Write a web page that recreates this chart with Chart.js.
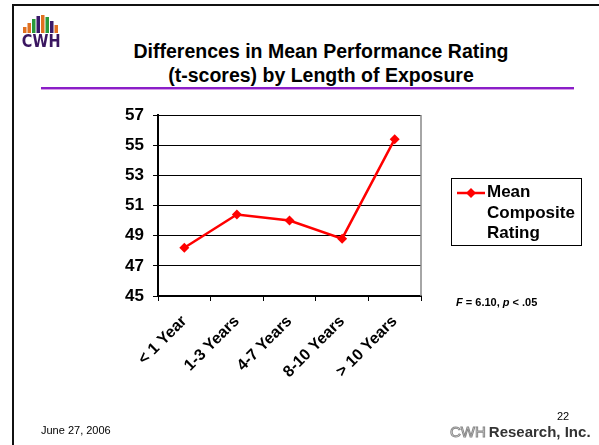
<!DOCTYPE html>
<html>
<head>
<meta charset="utf-8">
<script src="https://cdn.jsdelivr.net/npm/chart.js@4"></script>
<style>
  html, body { margin: 0; padding: 0; background: #fff; }
  body { width: 599px; height: 445px; position: relative; overflow: hidden; font-family: Arial, "Liberation Sans", sans-serif; }
  #frameTop { position: absolute; left: 12px; top: 4px; width: 587px; height: 2px; background: #111; }
  #frameLeft { position: absolute; left: 12px; top: 4px; width: 2px; height: 441px; background: #111; }
  #title { position: absolute; left: 101px; width: 440px; top: 39px; text-align: center; font-weight: bold; font-size: 19.5px; line-height: 24px; color: #000; }
  #rule { position: absolute; left: 41px; top: 87px; width: 533px; height: 2px; background: #8a1ec8; border-bottom: 1px solid #d59ae8; }
  #wrap { position: absolute; left: 0; top: 0; width: 599px; height: 445px; }
  #legend { position: absolute; left: 451px; top: 178px; width: 129px; height: 66px; border: 1px solid #000; }
  #legend canvas { position: absolute; left: 5px; top: 8px; }
  #legend .txt { position: absolute; left: 35px; top: 3px; font-weight: bold; font-size: 17px; line-height: 20.5px; color: #000; }
  #stat { position: absolute; left: 456px; top: 296px; font-weight: bold; font-size: 11px; color: #000; }
  #date { position: absolute; left: 41px; top: 424px; font-size: 11px; color: #000; }
  #page { position: absolute; left: 557px; top: 410px; font-size: 11px; color: #000; }
  #brand { position: absolute; left: 450px; top: 423px; font-size: 15px; font-weight: bold; color: #333; white-space: nowrap; }
  #brand .cwh { color: #fff; -webkit-text-stroke: 1px #888; font-weight: normal; letter-spacing: 0px; margin-right: 3px; }
</style>
</head>
<body>
<div id="frameTop"></div>
<div id="frameLeft"></div>
<canvas id="logo" width="44" height="38" style="position:absolute;left:21px;top:11px"></canvas>
<div id="title">Differences in Mean Performance Rating<br>(t-scores) by Length of Exposure</div>
<div id="rule"></div>
<div id="wrap"><canvas id="myChart" width="599" height="445"></canvas></div>
<div id="legend">
  <canvas id="legendMark" width="28" height="12"></canvas>
  <div class="txt">Mean<br>Composite<br>Rating</div>
</div>
<div id="stat"><i>F</i> = 6.10, <i>p</i> &lt; .05</div>
<div id="date">June 27, 2006</div>
<div id="page">22</div>
<div id="brand"><span class="cwh">CWH</span>Research, Inc.</div>
<script>
const categories = ['< 1 Year', '1-3 Years', '4-7 Years', '8-10 Years', '> 10 Years'];
const meanRating = [48.2, 50.4, 50.0, 48.8, 55.4];
const yTicks = [45, 47, 49, 51, 53, 55, 57];

// small logo: coloured bars over "CWH"
const lg = document.getElementById('logo').getContext('2d');
const barCols = ['#e07020', '#e07020', '#2a9a3a', '#3a1a6a', '#e07020', '#2a9a3a', '#3a1a6a', '#e07020'];
const barTops = [14, 10, 6, 3, 2, 4, 8, 12];
for (let i = 0; i < barCols.length; i++) {
  lg.fillStyle = barCols[i];
  lg.fillRect(2 + i * 4.5, barTops[i] + 2, 3.5, 20 - barTops[i]);
}
lg.fillStyle = '#3a1660';
lg.save();
lg.scale(0.85, 1);
lg.font = 'bold 17px "DejaVu Sans", Arial';
lg.fillText('CWH', 1, 36);
lg.restore();

// legend marker
const lm = document.getElementById('legendMark').getContext('2d');
lm.strokeStyle = '#ff0000';
lm.lineWidth = 2.5;
lm.beginPath(); lm.moveTo(0, 6); lm.lineTo(28, 6); lm.stroke();
lm.fillStyle = '#ff0000';
lm.beginPath(); lm.moveTo(14, 1); lm.lineTo(19, 6); lm.lineTo(14, 11); lm.lineTo(9, 6); lm.closePath(); lm.fill();

const rightBorder = {
  id: 'rightBorder',
  afterDraw(chart) {
    const a = chart.chartArea, c = chart.ctx;
    c.save();
    c.strokeStyle = '#888';
    c.lineWidth = 1.5;
    c.beginPath(); c.moveTo(a.right, a.top); c.lineTo(a.right, a.bottom); c.stroke();
    c.restore();
  }
};

const ctx = document.getElementById('myChart').getContext('2d');
const myChart = new Chart(ctx, {
  type: 'line',
  data: {
    labels: categories,
    datasets: [{
      label: 'Mean Composite Rating',
      data: meanRating,
      borderColor: '#ff0000',
      backgroundColor: '#ff0000',
      borderWidth: 2.5,
      pointStyle: 'rectRot',
      pointRadius: 5,
      pointBorderWidth: 0,
      tension: 0
    }]
  },
  options: {
    responsive: false,
    animation: false,
    layout: { padding: { left: 108, top: 115, right: 178, bottom: 49 } },
    plugins: {
      legend: { display: false },
      tooltip: { enabled: false }
    },
    scales: {
      x: {
        offset: true,
        afterFit: (scale) => { scale.height = 100; },
        grid: { offset: true, drawOnChartArea: false, drawTicks: true, tickLength: 5, color: '#000' },
        border: { color: '#000', width: 2 },
        ticks: {
          autoSkip: false,
          minRotation: 45,
          maxRotation: 45,
          color: '#000',
          padding: 11,
          font: { family: 'Arial', size: 16, weight: 'bold' }
        }
      },
      y: {
        min: 45,
        max: 57,
        afterFit: (scale) => { scale.width = 50; },
        afterBuildTicks: (scale) => { scale.ticks = yTicks.map(v => ({ value: v })); },
        grid: { color: '#000', lineWidth: 1, tickLength: 5 },
        border: { color: '#000', width: 2 },
        ticks: {
          color: '#000',
          padding: 9,
          font: { family: 'Arial', size: 17, weight: 'bold' }
        }
      }
    }
  },
  plugins: [rightBorder]
});
</script>
</body>
</html>
